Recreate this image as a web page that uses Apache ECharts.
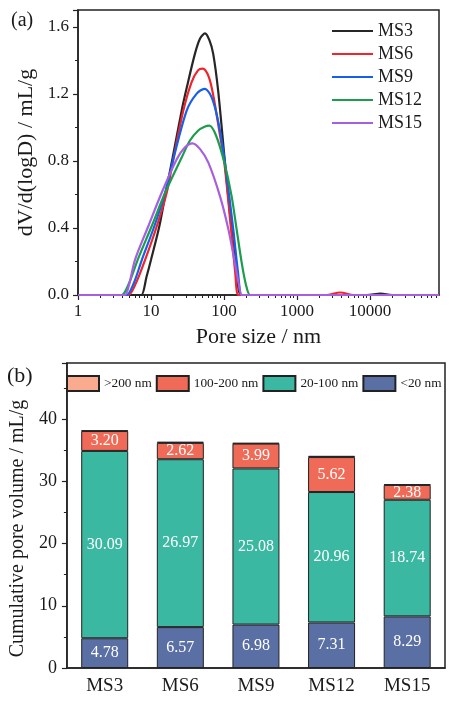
<!DOCTYPE html>
<html>
<head>
<meta charset="utf-8">
<script src="https://cdn.jsdelivr.net/npm/echarts@6/dist/echarts.min.js"></script>
<style>
html, body { margin: 0; padding: 0; background: #fff; }
#chart { width: 450px; height: 702px; }
</style>
</head>
<body>
<div id="chart"></div>
<script>
// (a) pore size distribution: [pore size (nm), dV/d(logD)]
const curveNames = ["MS3", "MS6", "MS9", "MS12", "MS15"];
const ms3Curve = [[1, 0], [6.5, 0], [7.4, 0], [8.7, 0.11], [10, 0.21], [13, 0.41], [15.9, 0.61], [19.6, 0.81], [26.3, 1.10], [31, 1.24], [40, 1.44], [47, 1.53], [55, 1.56], [63, 1.52], [71, 1.44], [83, 1.22], [103, 0.79], [127, 0.39], [150, 0.12], [168, 0], [200, 0], [9000, 0], [14000, 0.008], [20000, 0], [88000, 0]];
const ms6Curve = [[1, 0], [4.3, 0], [4.9, 0], [6.2, 0.07], [8.3, 0.21], [12, 0.41], [16.4, 0.61], [20.2, 0.81], [27.7, 1.10], [36, 1.27], [44, 1.34], [51, 1.35], [62, 1.30], [72, 1.18], [86, 0.98], [101, 0.79], [125, 0.39], [142, 0.14], [157, 0], [190, 0], [2500, 0], [3900, 0.015], [6000, 0], [88000, 0]];
const ms9Curve = [[1, 0], [4.1, 0], [4.65, 0], [5.8, 0.07], [7.5, 0.21], [11.1, 0.41], [15.6, 0.61], [20.2, 0.81], [30.8, 1.10], [42, 1.20], [54, 1.23], [64, 1.20], [75, 1.12], [88, 0.98], [103, 0.79], [134, 0.39], [155, 0.14], [175, 0], [210, 0], [88000, 0]];
const ms12Curve = [[1, 0], [3.5, 0], [3.97, 0], [5, 0.07], [6.57, 0.21], [10.2, 0.41], [15.6, 0.61], [26.3, 0.82], [34, 0.92], [44, 0.98], [55, 1.005], [63, 1.01], [78, 0.95], [101, 0.79], [127, 0.59], [149, 0.39], [175, 0.19], [200, 0.06], [227, 0], [270, 0], [88000, 0]];
const ms15Curve = [[1, 0], [3.9, 0], [4.4, 0], [5, 0.06], [6.04, 0.21], [9.18, 0.41], [14, 0.61], [22.5, 0.81], [29, 0.88], [37, 0.905], [47, 0.87], [61, 0.79], [88, 0.59], [115, 0.39], [141, 0.19], [160, 0.06], [175, 0], [210, 0], [88000, 0]];
const curveColors = ["#262626", "#f2232a", "#1660e8", "#1c9c4c", "#a65fe0"];
const sizeTicks = [1, 10, 100, 1000, 10000];
const sizeMinorTicks = [];
sizeTicks.forEach(function (d) { for (let k = 2; k <= 9; k++) sizeMinorTicks.push(d * k); });

// (b) cumulative pore volume (mL/g)
const samples = ["MS3", "MS6", "MS9", "MS12", "MS15"];
const below20 = [4.78, 6.57, 6.98, 7.31, 8.29];
const from20to100 = [30.09, 26.97, 25.08, 20.96, 18.74];
const from100to200 = [3.20, 2.62, 3.99, 5.62, 2.38];
const above200 = [0.1, 0.2, 0.1, 0.2, 0.1];
const rangeNames = [">200 nm", "100-200 nm", "20-100 nm", "<20 nm"];

const serif = "Liberation Serif";
const ink = "#1a1a1a";

const chart = echarts.init(document.getElementById("chart"));

const curves = [ms3Curve, ms6Curve, ms9Curve, ms12Curve, ms15Curve];
const lineSeries = curves.map(function (c, i) {
  return {
    name: curveNames[i],
    type: "line",
    xAxisIndex: 0,
    yAxisIndex: 0,
    data: c,
    smooth: 0.3,
    symbol: "none",
    color: curveColors[i],
    lineStyle: { width: 2.2, color: curveColors[i] },
  };
});

function barSeries(name, data, color, withLabel) {
  return {
    name: name,
    type: "bar",
    xAxisIndex: 2,
    yAxisIndex: 1,
    stack: "vol",
    barWidth: 47,
    data: data,
    color: color,
    itemStyle: { color: color, borderColor: "#222", borderWidth: 1 },
    label: {
      show: withLabel,
      position: "inside",
      color: "#fff",
      fontFamily: serif,
      fontSize: 16,
      formatter: function (p) { return p.value.toFixed(2); },
    },
  };
}

const option = {
  animation: false,
  backgroundColor: "#fff",
  textStyle: { fontFamily: serif, color: ink },
  grid: [
    { left: 78, top: 10, width: 361, height: 285, show: true, borderColor: "#222", borderWidth: 1.5 },
    { left: 58, top: 363, width: 387, height: 305, show: true, borderColor: "#222", borderWidth: 1.5 },
  ],
  legend: [
    {
      data: curveNames,
      orient: "vertical",
      left: 327,
      top: 17,
      icon: "rect",
      itemWidth: 41,
      itemHeight: 2,
      itemGap: 5,
      textStyle: { fontFamily: serif, fontSize: 18, color: ink },
    },
    {
      data: rangeNames,
      orient: "horizontal",
      left: 61,
      top: 370,
      width: 400,
      icon: "rect",
      itemWidth: 32,
      itemHeight: 15,
      itemGap: 4,
      textStyle: { fontFamily: serif, fontSize: 13.3, color: ink },
    },
  ],
  xAxis: [
    {
      gridIndex: 0,
      type: "log",
      logBase: 10,
      min: 1,
      max: 88000,
      name: "Pore size / nm",
      nameLocation: "middle",
      nameGap: 31,
      nameTextStyle: { fontFamily: serif, fontSize: 22, color: ink },
      axisLine: { lineStyle: { color: "#222", width: 1.5 } },
      axisTick: { length: 5, customValues: sizeTicks, lineStyle: { color: "#222", width: 1.2 } },
      axisLabel: {
        customValues: sizeTicks,
        fontFamily: serif, fontSize: 17, color: ink, margin: 8,
        formatter: function (v) { return String(Math.round(v)); },
      },
      splitLine: { show: false },
    },
    {
      gridIndex: 0,
      type: "log",
      logBase: 10,
      min: 1,
      max: 88000,
      position: "bottom",
      axisLine: { show: false },
      axisTick: { length: 3, customValues: sizeMinorTicks, lineStyle: { color: "#222", width: 1 } },
      axisLabel: { show: false },
      splitLine: { show: false },
    },
    {
      gridIndex: 1,
      type: "category",
      data: samples,
      axisLine: { lineStyle: { color: "#222", width: 1.5 } },
      axisTick: { alignWithLabel: true, length: 5, lineStyle: { color: "#222", width: 1.2 } },
      axisLabel: { fontFamily: serif, fontSize: 19, color: ink, margin: 9 },
    },
  ],
  yAxis: [
    {
      gridIndex: 0,
      type: "value",
      min: 0,
      max: 1.7,
      interval: 0.4,
      name: "dV/d(logD) / mL/g",
      nameLocation: "middle",
      nameGap: 40,
      nameTextStyle: { fontFamily: serif, fontSize: 22, color: ink },
      axisLine: { show: true, lineStyle: { color: "#222", width: 1.5 } },
      axisTick: { show: true, length: 5, lineStyle: { color: "#222", width: 1.2 } },
      minorTick: { show: true, splitNumber: 2, length: 3, lineStyle: { color: "#222", width: 1 } },
      axisLabel: {
        fontFamily: serif, fontSize: 17, color: ink, margin: 9, showMaxLabel: false,
        formatter: function (v) { return v.toFixed(1); },
      },
      splitLine: { show: false },
    },
    {
      gridIndex: 1,
      type: "value",
      min: 0,
      max: 49,
      interval: 10,
      name: "Cumulative pore volume / mL/g",
      nameLocation: "middle",
      nameGap: 32,
      nameTextStyle: { fontFamily: serif, fontSize: 20, color: ink, padding: [0, 26, 0, 0] },
      axisLine: { show: true, lineStyle: { color: "#222", width: 1.5 } },
      axisTick: { show: true, length: 5, lineStyle: { color: "#222", width: 1.2 } },
      minorTick: { show: true, splitNumber: 2, length: 3, lineStyle: { color: "#222", width: 1 } },
      axisLabel: { fontFamily: serif, fontSize: 18, color: ink, margin: 10, showMaxLabel: false },
      splitLine: { show: false },
    },
  ],
  graphic: [
    { type: "text", left: 11, top: 11, style: { text: "(a)", font: "20px 'Liberation Serif'", fill: ink } },
    { type: "text", left: 7, top: 365, style: { text: "(b)", font: "22px 'Liberation Serif'", fill: ink } },
  ],
  series: lineSeries.concat([
    barSeries("<20 nm", below20, "#5a6fa3", true),
    barSeries("20-100 nm", from20to100, "#3ab8a2", true),
    barSeries("100-200 nm", from100to200, "#ef6a57", true),
    barSeries(">200 nm", above200, "#f9aa8f", false),
  ]),
};

chart.setOption(option);
</script>
</body>
</html>
